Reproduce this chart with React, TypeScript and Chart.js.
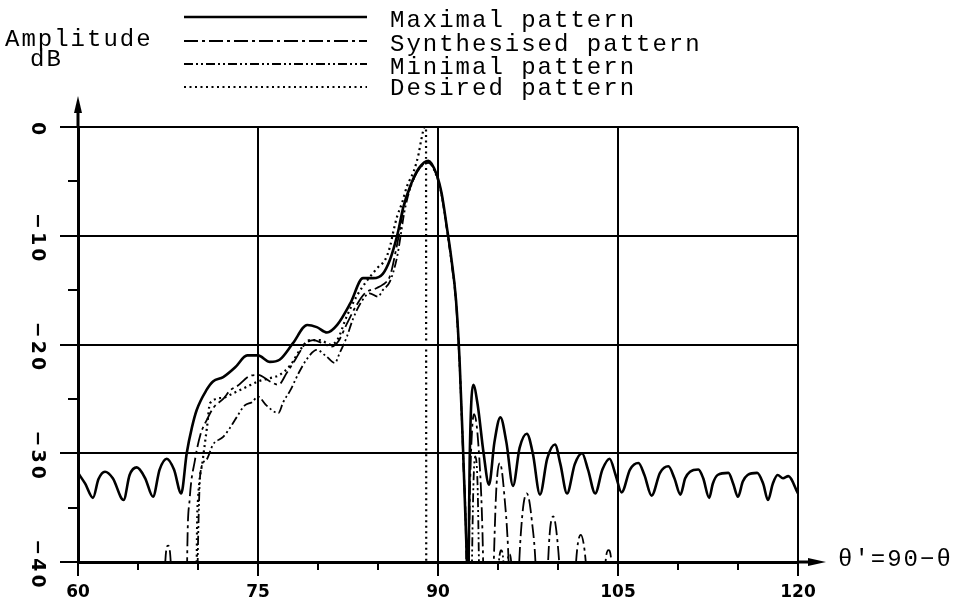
import React, { useEffect, useRef } from "react";
import { Chart, registerables } from "chart.js";

Chart.register(...registerables);

// ---- axes / labels ----
const xTickValues = [60, 75, 90, 105, 120];
const xTickLabels = ["60", "75", "90", "105", "120"];
const yTickValues = [0, -10, -20, -30, -40];
const yTickLabels = ["0", "−10", "−20", "−30", "−40"];
const xMinorTicks = [65, 70, 80, 85, 95, 100, 110, 115];
const yMinorTicks = [-5, -15, -25, -35];
const seriesNames = ["Maximal pattern", "Synthesised pattern", "Minimal pattern", "Desired pattern"];
const yAxisTitle = ["Amplitude", "dB"];
const xAxisTitle = "θ'=90−θ";

// ---- series (angle in degrees, amplitude in dB) ----
const maximalDeg = [60, 60.6, 61.25, 61.7, 62.25, 62.9, 63.8, 64.3, 64.9, 65.6, 66.25, 66.8, 67.4, 68.0, 68.6, 69.06, 69.5, 69.9, 70.7, 71.25, 72.1, 73.1, 74.1, 75.0, 76.0, 76.8, 77.9, 79.1, 79.9, 80.75, 81.6, 82.7, 83.75, 84.6, 85.4, 86.0, 86.4, 86.7, 87.1, 87.7, 88.4, 89.2, 89.9, 90.3, 90.75, 91.1, 91.5, 91.8, 92.1, 92.4, 92.5, 92.65, 92.94, 93.3, 93.8, 94.25, 94.7, 95.2, 95.7, 96.25, 96.8, 97.4, 97.9, 98.5, 99.1, 99.75, 100.2, 100.75, 101.4, 102.0, 102.5, 103.1, 103.7, 104.3, 104.8, 105.3, 106.0, 106.7, 107.2, 107.8, 108.5, 109.2, 109.7, 110.2, 110.6, 111.0, 111.7, 112.1, 112.6, 112.9, 113.3, 114.2, 114.6, 115.0, 115.4, 115.8, 116.6, 117.1, 117.5, 117.9, 118.3, 118.75, 119.2, 120];
const maximalDb = [-31.8, -32.8, -34.1, -32.4, -31.7, -32.3, -34.3, -32.0, -31.3, -32.3, -34.0, -31.5, -30.5, -31.5, -33.7, -30.0, -27.6, -26.0, -24.2, -23.4, -23.0, -22.1, -21.0, -21.0, -21.6, -21.4, -19.9, -18.2, -18.4, -18.9, -18.2, -16.2, -13.9, -13.9, -13.5, -12.2, -10.8, -9.5, -7.4, -5.4, -3.8, -3.1, -4.4, -6.1, -9.3, -12.0, -15.9, -21.5, -30.0, -39.5, -43, -30, -23.7, -25.5, -30.0, -32.9, -29.0, -26.7, -29.0, -33.0, -29.5, -28.2, -30.0, -33.8, -30.5, -29.2, -31.0, -33.7, -31.0, -30.0, -31.5, -33.7, -31.5, -30.5, -32.0, -33.6, -31.5, -30.9, -32.0, -33.9, -31.8, -31.2, -32.3, -33.8, -32.3, -31.7, -31.5, -32.3, -34.1, -32.8, -32.0, -31.8, -32.8, -34.0, -32.6, -32.0, -31.8, -32.8, -34.3, -32.8, -32.0, -32.3, -32.1, -33.7];

const synthDeg = [60, 67.1, 67.25, 67.5, 67.75, 67.9, 68.95, 69.1, 69.3, 69.75, 70.2, 70.75, 71.3, 72.1, 72.7, 73.3, 74.3, 75.0, 76.0, 76.7, 77.4, 78.1, 78.9, 79.6, 80.4, 81.1, 81.7, 82.4, 83.2, 83.9, 84.9, 85.4, 86.0, 86.5, 86.8, 87.1, 87.7, 88.4, 89.2, 89.9, 90.3, 90.75, 91.1, 91.5, 91.8, 92.1, 92.4, 92.5, 92.65, 93.0, 93.35, 93.7, 93.85, 94.2, 94.6, 94.85, 95.15, 95.5, 95.95, 96.3, 96.7, 97.0, 97.4, 97.8, 98.2, 98.6, 99.1, 99.3, 99.6, 99.9, 100.2, 100.8, 101.4, 101.6, 101.9, 102.2, 102.45, 103.3, 103.9, 104.2, 104.45, 104.5, 105.0, 120];
const synthDb = [-60, -60, -40.5, -38.5, -40.5, -60, -60, -39.5, -34.3, -30.6, -28.3, -26.9, -25.8, -25.0, -24.2, -23.8, -22.9, -22.8, -23.4, -23.7, -22.6, -21.4, -20.0, -19.6, -19.9, -20.2, -19.7, -18.1, -16.4, -15.3, -14.8, -14.5, -13.7, -11.3, -9.6, -7.6, -5.5, -3.9, -3.2, -4.5, -6.2, -9.4, -12.1, -16.0, -21.7, -30.2, -39.6, -45, -34, -26.4, -29.0, -37.0, -45, -60, -42, -33.5, -30.9, -33.5, -42, -60, -42, -36, -33.7, -36, -42, -60, -42, -37.5, -35.8, -37.5, -42, -60, -42, -38.8, -37.5, -38.8, -42, -60, -41, -38.9, -40, -42, -60, -60];

const minimalDeg = [60, 69.8, 69.95, 70.05, 70.2, 70.7, 71.25, 72.1, 72.7, 73.1, 73.9, 74.5, 75.0, 75.7, 76.7, 77.1, 77.7, 78.4, 79.1, 79.9, 80.7, 81.4, 81.8, 82.4, 82.9, 83.6, 84.3, 85.0, 85.4, 86.0, 86.6, 86.9, 87.2, 87.7, 88.4, 89.2, 89.9, 90.3, 90.75, 91.1, 91.5, 91.8, 92.1, 92.35, 92.5, 92.8, 92.95, 93.1, 93.3, 93.45, 94.2, 95.0, 95.25, 95.5, 95.6, 95.75, 95.95, 96.15, 96.4, 120];
const minimalDb = [-60, -60, -42, -36, -31.8, -30.6, -29.2, -28.5, -27.6, -26.9, -25.6, -25.3, -24.8, -25.6, -26.3, -25.3, -24.2, -22.6, -21.3, -20.5, -21.1, -21.7, -20.8, -19.3, -17.7, -16.1, -15.3, -15.6, -15.0, -14.2, -11.9, -9.9, -7.8, -5.6, -3.9, -3.3, -4.6, -6.3, -9.5, -12.3, -16.2, -22.0, -30.5, -39.5, -60, -42, -33, -30.3, -33, -42, -60, -41, -38.9, -41, -60, -41, -39.3, -41, -60, -60];

const desiredDeg = [60, 69.85, 69.9, 70.0, 70.4, 70.75, 71.0, 72.1, 72.9, 74.05, 75.0, 76.0, 76.8, 77.7, 78.5, 79.3, 80.2, 81.0, 81.6, 82.4, 83.2, 84.1, 85.0, 85.6, 86.0, 86.3, 86.6, 87.0, 87.4, 88.0, 88.4, 88.6, 88.9, 89.0, 89.03, 120];
const desiredDb = [-60, -60, -39.5, -34.3, -30.6, -27.6, -25.4, -24.9, -24.5, -23.9, -23.4, -23.1, -22.8, -21.9, -20.5, -19.6, -19.6, -20.0, -19.6, -17.4, -15.6, -14.1, -12.9, -12.2, -11.0, -9.5, -8.2, -7.0, -5.5, -4.0, -2.4, -1.2, 0, 0, -60, -60];

const dashes = [[], [14, 4, 3, 4], [9, 3, 2, 3, 2, 3], [2, 3.5]];
const widths = [2.6, 1.8, 1.8, 2.2];

const toPoints = (xs: number[], ys: number[]) => xs.map((x, i) => ({ x, y: ys[i] }));

const decorPlugin = {
  id: "decor",
  afterDraw(chart: any) {
    const ctx = chart.ctx as CanvasRenderingContext2D;
    const xs = chart.scales.x;
    const ys = chart.scales.y;
    const { left, right, top, bottom } = chart.chartArea;
    ctx.save();
    ctx.strokeStyle = "#000";
    ctx.fillStyle = "#000";
    ctx.setLineDash([]);

    // major tick extensions
    ctx.lineWidth = 2;
    yTickValues.forEach((v) => {
      const y = Math.round(ys.getPixelForValue(v));
      ctx.beginPath();
      ctx.moveTo(left - 18, y);
      ctx.lineTo(left, y);
      ctx.stroke();
    });
    xTickValues.forEach((v) => {
      const x = Math.round(xs.getPixelForValue(v));
      ctx.beginPath();
      ctx.moveTo(x, bottom);
      ctx.lineTo(x, bottom + 14);
      ctx.stroke();
    });
    // minor ticks
    yMinorTicks.forEach((v) => {
      const y = Math.round(ys.getPixelForValue(v));
      ctx.beginPath();
      ctx.moveTo(left - 10, y);
      ctx.lineTo(left, y);
      ctx.stroke();
    });
    xMinorTicks.forEach((v) => {
      const x = Math.round(xs.getPixelForValue(v));
      ctx.beginPath();
      ctx.moveTo(x, bottom);
      ctx.lineTo(x, bottom + 8);
      ctx.stroke();
    });

    // axis arrows
    ctx.lineWidth = 3;
    ctx.beginPath();
    ctx.moveTo(left, top);
    ctx.lineTo(left, top - 20);
    ctx.stroke();
    ctx.beginPath();
    ctx.moveTo(left, top - 31);
    ctx.lineTo(left - 4, top - 14);
    ctx.lineTo(left + 4, top - 14);
    ctx.closePath();
    ctx.fill();

    ctx.beginPath();
    ctx.moveTo(right, bottom);
    ctx.lineTo(right + 14, bottom);
    ctx.stroke();
    ctx.beginPath();
    ctx.moveTo(right + 28, bottom);
    ctx.lineTo(right + 10, bottom - 4);
    ctx.lineTo(right + 10, bottom + 4);
    ctx.closePath();
    ctx.fill();

    // tick labels
    ctx.font = "bold 17px 'DejaVu Sans'";
    ctx.textAlign = "center";
    ctx.textBaseline = "middle";
    xTickValues.forEach((v, i) => {
      ctx.fillText(xTickLabels[i], xs.getPixelForValue(v), bottom + 31);
    });
    ctx.font = "bold 19px 'DejaVu Sans'";
    (ctx as any).letterSpacing = "3px";
    yTickValues.forEach((v, i) => {
      const y = ys.getPixelForValue(v);
      ctx.save();
      ctx.translate(37, y + 3);
      ctx.rotate(Math.PI / 2);
      ctx.fillText(yTickLabels[i], 0, 0);
      ctx.restore();
    });

    // text in monospace
    ctx.font = "24px 'Liberation Mono'";
    (ctx as any).letterSpacing = "2px";
    ctx.textAlign = "left";
    ctx.fillText(xAxisTitle, right + 40, bottom - 2);
    ctx.fillText(yAxisTitle[0], 5, 40);
    ctx.fillText(yAxisTitle[1], 30, 60);

    // legend
    const lineY = [17, 41, 64, 87];
    const textY = [21, 45, 68, 89];
    seriesNames.forEach((name, i) => {
      ctx.lineWidth = widths[i];
      ctx.setLineDash(dashes[i]);
      ctx.beginPath();
      ctx.moveTo(184, lineY[i]);
      ctx.lineTo(367, lineY[i]);
      ctx.stroke();
      ctx.setLineDash([]);
      ctx.fillText(name, 390, textY[i]);
    });
    ctx.restore();
  },
};

export default function App() {
  const ref = useRef<HTMLCanvasElement>(null);
  useEffect(() => {
    const series = [
      toPoints(maximalDeg, maximalDb),
      toPoints(synthDeg, synthDb),
      toPoints(minimalDeg, minimalDb),
      toPoints(desiredDeg, desiredDb),
    ];
    const chart = new Chart(ref.current as HTMLCanvasElement, {
      type: "line",
      data: {
        datasets: series.map((pts, i) => ({
          label: seriesNames[i],
          data: pts,
          borderColor: "#000",
          borderWidth: widths[i],
          borderDash: dashes[i],
          cubicInterpolationMode: "monotone",
          fill: false,
          pointRadius: 0,
          clip: { left: 0, top: 4, right: 0, bottom: 0 },
        })),
      },
      options: {
        animation: false,
        responsive: false,
        devicePixelRatio: 1,
        events: [],
        layout: { padding: { left: 78, top: 127, right: 163, bottom: 49 } },
        plugins: { legend: { display: false }, tooltip: { enabled: false } },
        scales: {
          x: {
            type: "linear",
            min: 60,
            max: 120,
            ticks: { display: false, stepSize: 15 },
            grid: { color: "#000", lineWidth: 2, drawTicks: false },
            border: { display: true, color: "#000", width: 3 },
          },
          y: {
            type: "linear",
            min: -40,
            max: 0,
            ticks: { display: false, stepSize: 10 },
            grid: { color: "#000", lineWidth: 2, drawTicks: false },
            border: { display: true, color: "#000", width: 3 },
          },
        },
      } as any,
      plugins: [decorPlugin],
    });
    return () => chart.destroy();
  }, []);
  return (
    <div style={{ position: "absolute", left: 0, top: 0, width: 961, height: 611, background: "#fff" }}>
      <canvas ref={ref} width={961} height={611} style={{ display: "block" }} />
    </div>
  );
}
